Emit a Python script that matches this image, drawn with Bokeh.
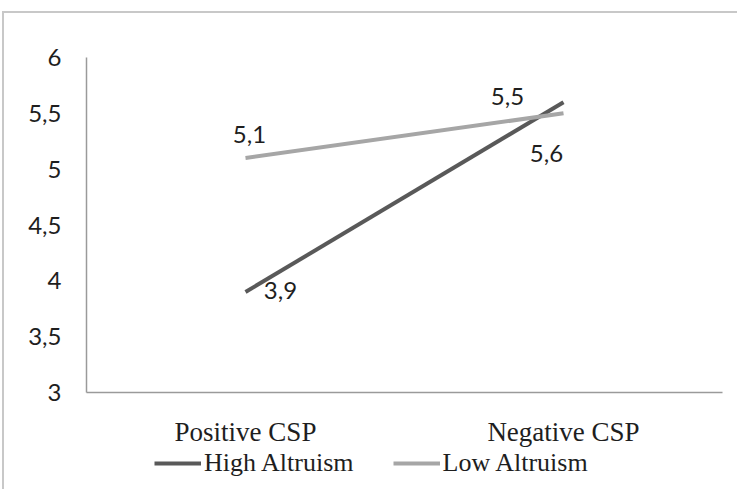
from bokeh.plotting import figure
from bokeh.layouts import column
from bokeh.models import ColumnDataSource, Legend, LegendItem, FixedTicker
from bokeh.embed import file_html
from bokeh.resources import INLINE

categories = ["Positive CSP", "Negative CSP"]
high_altruism = [3.9, 5.6]
low_altruism = [5.1, 5.5]
series_names = ["High Altruism", "Low Altruism"]
y_ticks = [3, 3.5, 4, 4.5, 5, 5.5, 6]
y_tick_labels = ["3", "3,5", "4", "4,5", "5", "5,5", "6"]

HIGH_COLOR = "#595959"
LOW_COLOR = "#a6a6a6"
TEXT_COLOR = "#1e1e1e"

def fmt(v):
    return ("%g" % v).replace(".", ",")

p = figure(width=735, height=436, x_range=categories, y_range=(3, 6),
           output_backend="svg", toolbar_location=None,
           min_border_left=82, min_border_right=17, min_border_top=44, min_border_bottom=57)
p.styles = {"margin-top": "11px", "margin-left": "2px",
            "border-top": "2px solid #c8c8c8", "border-left": "2px solid #c8c8c8"}
p.x_range.range_padding = 0
p.outline_line_color = None
p.grid.visible = False
p.background_fill_color = "white"
p.border_fill_color = "white"

for ax in (p.xaxis[0], p.yaxis[0]):
    ax.axis_line_color = "#9a9a9a"
    ax.axis_line_width = 1.5
    ax.major_tick_line_color = None
    ax.minor_tick_line_color = None
    ax.major_tick_in = 0
    ax.major_tick_out = 0
p.yaxis.ticker = FixedTicker(ticks=y_ticks)
p.yaxis.major_label_overrides = {t: l for t, l in zip(y_ticks, y_tick_labels)}
p.yaxis.major_label_text_font = "Lato"
p.yaxis.major_label_text_font_size = "24px"
p.yaxis.major_label_text_color = TEXT_COLOR
p.yaxis.major_label_standoff = 25
p.xaxis.major_label_text_font = "Liberation Serif"
p.xaxis.major_label_text_font_size = "27px"
p.xaxis.major_label_text_color = TEXT_COLOR
p.xaxis.major_label_standoff = 24

hi_src = ColumnDataSource(dict(x=categories, y=high_altruism, lbl=[fmt(v) for v in high_altruism],
                               dx=[35, -17], dy=[-2, 51]))
lo_src = ColumnDataSource(dict(x=categories, y=low_altruism, lbl=[fmt(v) for v in low_altruism],
                               dx=[4, -56], dy=[-24, -17]))

p.line("x", "y", source=hi_src, line_color=HIGH_COLOR, line_width=4)
p.line("x", "y", source=lo_src, line_color=LOW_COLOR, line_width=4)

for src in (hi_src, lo_src):
    p.text("x", "y", text="lbl", source=src, x_offset="dx", y_offset="dy",
           text_align="center", text_baseline="middle", text_font_size="24px",
           text_font={"value": "Lato"}, text_color=TEXT_COLOR)

# legend strip below the chart (swatch renderers sit outside the visible range)
q = figure(width=735, height=42, x_range=(0, 1), y_range=(0, 1),
           output_backend="svg", toolbar_location=None,
           min_border_left=0, min_border_right=0, min_border_top=0, min_border_bottom=0)
q.styles = {"margin-left": "2px", "border-left": "2px solid #c8c8c8"}
q.axis.visible = False
q.grid.visible = False
q.outline_line_color = None
q.background_fill_color = "white"
q.border_fill_color = "white"
lh = q.line(x=[-5, -4], y=[-5, -4], line_color=HIGH_COLOR, line_width=4)
ll = q.line(x=[-5, -4], y=[-5, -4], line_color=LOW_COLOR, line_width=4)

legend = Legend(items=[LegendItem(label=series_names[0], renderers=[lh]),
                       LegendItem(label=series_names[1], renderers=[ll])],
                orientation="horizontal", location=(68, 11),
                glyph_width=47, glyph_height=20, label_standoff=3, spacing=39,
                padding=0, margin=0, border_line_color=None, background_fill_alpha=0,
                label_text_font="Liberation Serif", label_text_font_size="26px",
                label_text_color=TEXT_COLOR)
q.add_layout(legend)

layout = column(p, q, spacing=0)
open("out.html", "w").write(file_html(layout, INLINE))
